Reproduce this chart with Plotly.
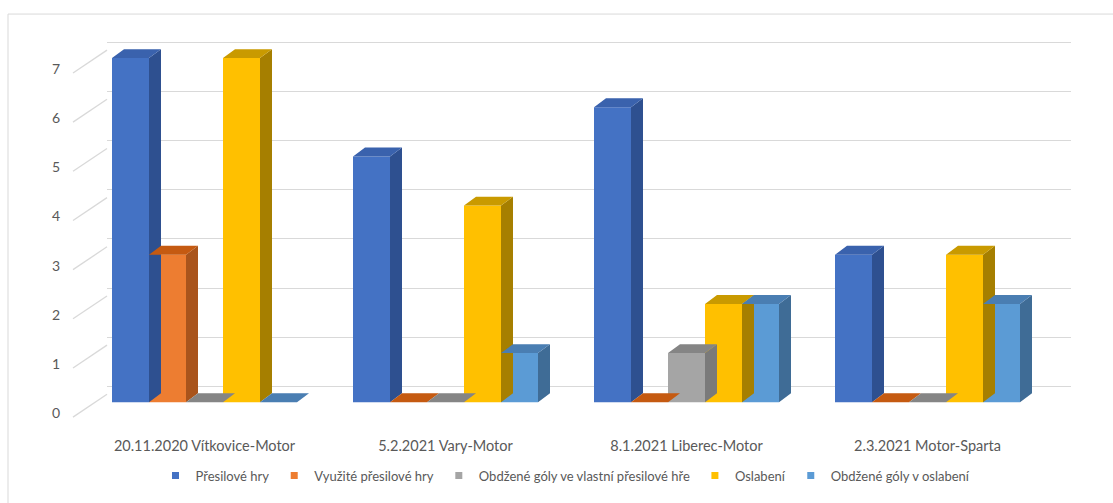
import plotly.graph_objects as go

# ---------------- data ----------------
categories = ["20.11.2020 Vítkovice-Motor", "5.2.2021 Vary-Motor",
              "8.1.2021 Liberec-Motor", "2.3.2021 Motor-Sparta"]
series_names = ["Přesilové hry", "Využité přesilové hry",
                "Obdžené góly ve vlastní přesilové hře", "Oslabení",
                "Obdžené góly v oslabení"]
presilove_hry = [7, 5, 6, 3]
vyuzite_presilove_hry = [3, 0, 0, 0]
obdrzene_v_presilovce = [0, 0, 1, 0]
oslabeni = [7, 4, 2, 3]
obdrzene_v_oslabeni = [0, 1, 2, 2]
y_ticks = [0, 1, 2, 3, 4, 5, 6, 7]

series_values = [presilove_hry, vyuzite_presilove_hry, obdrzene_v_presilovce,
                 oslabeni, obdrzene_v_oslabeni]

# ---------------- styles ----------------
front_colors = ["#4472C4", "#ED7D31", "#A5A5A5", "#FFC000", "#5B9BD5"]
side_colors = ["#2E5090", "#A9541C", "#7A7A7A", "#A67F00", "#3F6C96"]
top_colors = ["#3A62AD", "#C55A11", "#858585", "#C99A00", "#4A7EB2"]

W, H = 1113, 503
ML, MR, MT, MB = 60, 42, 20, 73
PW, PH = W - ML - MR, H - MT - MB
PX_PER_X = 241.0          # pixels per category unit
PX_PER_Y = 49.65          # pixels per value unit
X_START_PX = 107          # left edge of the back wall (pixels)
GROUP_W = 185 / PX_PER_X  # width of a group of bars
BAR_W = GROUP_W / 5
DEPTH_X = 12 / PX_PER_X   # bar depth offset (x units)
DEPTH_Y = 9 / PX_PER_Y    # bar depth offset (y units)

# x range: category 0 group begins at pixel 112
x0_val = -GROUP_W / 2 - (112 - X_START_PX) / PX_PER_X
x_range = [x0_val, x0_val + (W - MR - X_START_PX) / PX_PER_X]
x_domain = [(X_START_PX - ML) / PW, 1]

# front (bars) axis: value 0 at pixel 406
y_bottom = -(MT + PH - 406) / PX_PER_Y
y_range = [y_bottom, y_bottom + PH / PX_PER_Y]
# back wall grid: 0 at pixel 390
back_shift = (406 - 390) / PX_PER_Y
y2_range = [y_range[0] - back_shift, y_range[1] - back_shift]
# tick labels: 0 at pixel 417
label_shift = (417 - 406) / PX_PER_Y
y3_range = [y_range[0] + label_shift, y_range[1] + label_shift]
# side wall front edge: 0 at pixel 413 (relative to label axis)
wall_front_off = -(417 - 413) / PX_PER_Y
wall_depth = (413 - 390) / PX_PER_Y

fig = go.Figure()

# 3D side and top faces, left to right within each group
for i, (vals, name) in enumerate(zip(series_values, series_names)):
    sx, sy, tx, ty = [], [], [], []
    for k, v in enumerate(vals):
        left = k - GROUP_W / 2 + i * BAR_W
        right = left + BAR_W
        if v > 0:
            sx += [right, right + DEPTH_X, right + DEPTH_X, right, right, None]
            sy += [0, DEPTH_Y, v + DEPTH_Y, v, 0, None]
        tx += [left, right, right + DEPTH_X, left + DEPTH_X, left, None]
        ty += [v, v, v + DEPTH_Y, v + DEPTH_Y, v, None]
    fig.add_trace(go.Scatter(x=sx, y=sy, mode="lines", fill="toself",
                             fillcolor=side_colors[i], line=dict(width=0),
                             showlegend=False, hoverinfo="skip"))
    fig.add_trace(go.Scatter(x=tx, y=ty, mode="lines", fill="toself",
                             fillcolor=top_colors[i], line=dict(width=0),
                             showlegend=False, hoverinfo="skip"))

# front faces as real bars
for i, (vals, name) in enumerate(zip(series_values, series_names)):
    xs = [k - GROUP_W / 2 + (i + 0.5) * BAR_W for k in range(len(categories))]
    fig.add_trace(go.Bar(x=xs, y=vals, width=BAR_W, name=name,
                         marker=dict(color=front_colors[i], line=dict(width=0)),
                         showlegend=False, hoverinfo="skip"))

# legend entries with small square markers
for i, name in enumerate(series_names):
    fig.add_trace(go.Scatter(x=[None], y=[None], mode="markers", name=name,
                             marker=dict(symbol="square", size=7,
                                         color=front_colors[i]),
                             hoverinfo="skip"))

# invisible traces for the grid and label axes
fig.add_trace(go.Scatter(x=[0], y=[0], yaxis="y3", mode="markers",
                         marker=dict(opacity=0), showlegend=False,
                         hoverinfo="skip"))
fig.add_trace(go.Scatter(x=[0], y=[0], yaxis="y2", mode="markers",
                         marker=dict(opacity=0), showlegend=False,
                         hoverinfo="skip"))

shapes = []
# side wall diagonals
for t in y_ticks:
    shapes.append(dict(type="line", xref="paper", yref="y3",
                       x0=(73 - ML) / PW, y0=t + wall_front_off,
                       x1=(X_START_PX - ML) / PW,
                       y1=t + wall_front_off + wall_depth,
                       line=dict(color="#D9D9D9", width=1.3), layer="below"))
# chart border
shapes.append(dict(type="rect", xref="paper", yref="paper",
                   x0=(8 - ML) / PW, x1=(W + 10 - ML) / PW,
                   y0=-(H + 10 - MT - PH) / PH, y1=(MT + PH - 14) / PH,
                   line=dict(color="#D9D9D9", width=1), layer="below"))

font_family = "Lato, Liberation Sans, sans-serif"
fig.update_layout(
    width=W, height=H,
    margin=dict(l=ML, r=MR, t=MT, b=MB),
    paper_bgcolor="white", plot_bgcolor="rgba(0,0,0,0)",
    barmode="overlay",
    font=dict(family=font_family, color="#595959", size=13),
    xaxis=dict(domain=x_domain, range=x_range, tickmode="array",
               tickvals=list(range(len(categories))), ticktext=categories,
               showgrid=False, zeroline=False, showline=False,
               ticks="", ticklabelstandoff=9,
               tickfont=dict(size=14.5, color="#595959")),
    yaxis=dict(range=y_range, showgrid=False, zeroline=False,
               showticklabels=False, showline=False, ticks=""),
    yaxis2=dict(range=y2_range, overlaying="y", anchor="x", side="left",
                tickmode="array", tickvals=y_ticks, showgrid=True,
                gridcolor="#D9D9D9", gridwidth=1.3, zeroline=False,
                showticklabels=False, showline=False, ticks=""),
    yaxis3=dict(range=y3_range, overlaying="y", anchor="free", position=0,
                side="left", tickmode="array", tickvals=y_ticks,
                showgrid=False, zeroline=False, showline=False, ticks="",
                tickfont=dict(size=14, color="#595959")),
    legend=dict(orientation="h", x=0.5, xanchor="center",
                y=(MT + PH - 480) / PH, yanchor="middle",
                font=dict(size=13, color="#595959"), traceorder="normal",
                itemwidth=30),
    shapes=shapes,
    showlegend=True,
)

fig.write_html("out.html",
               config={"displayModeBar": False},
               post_script="document.body.style.margin='0';"
                           "document.body.style.overflow='hidden';")
